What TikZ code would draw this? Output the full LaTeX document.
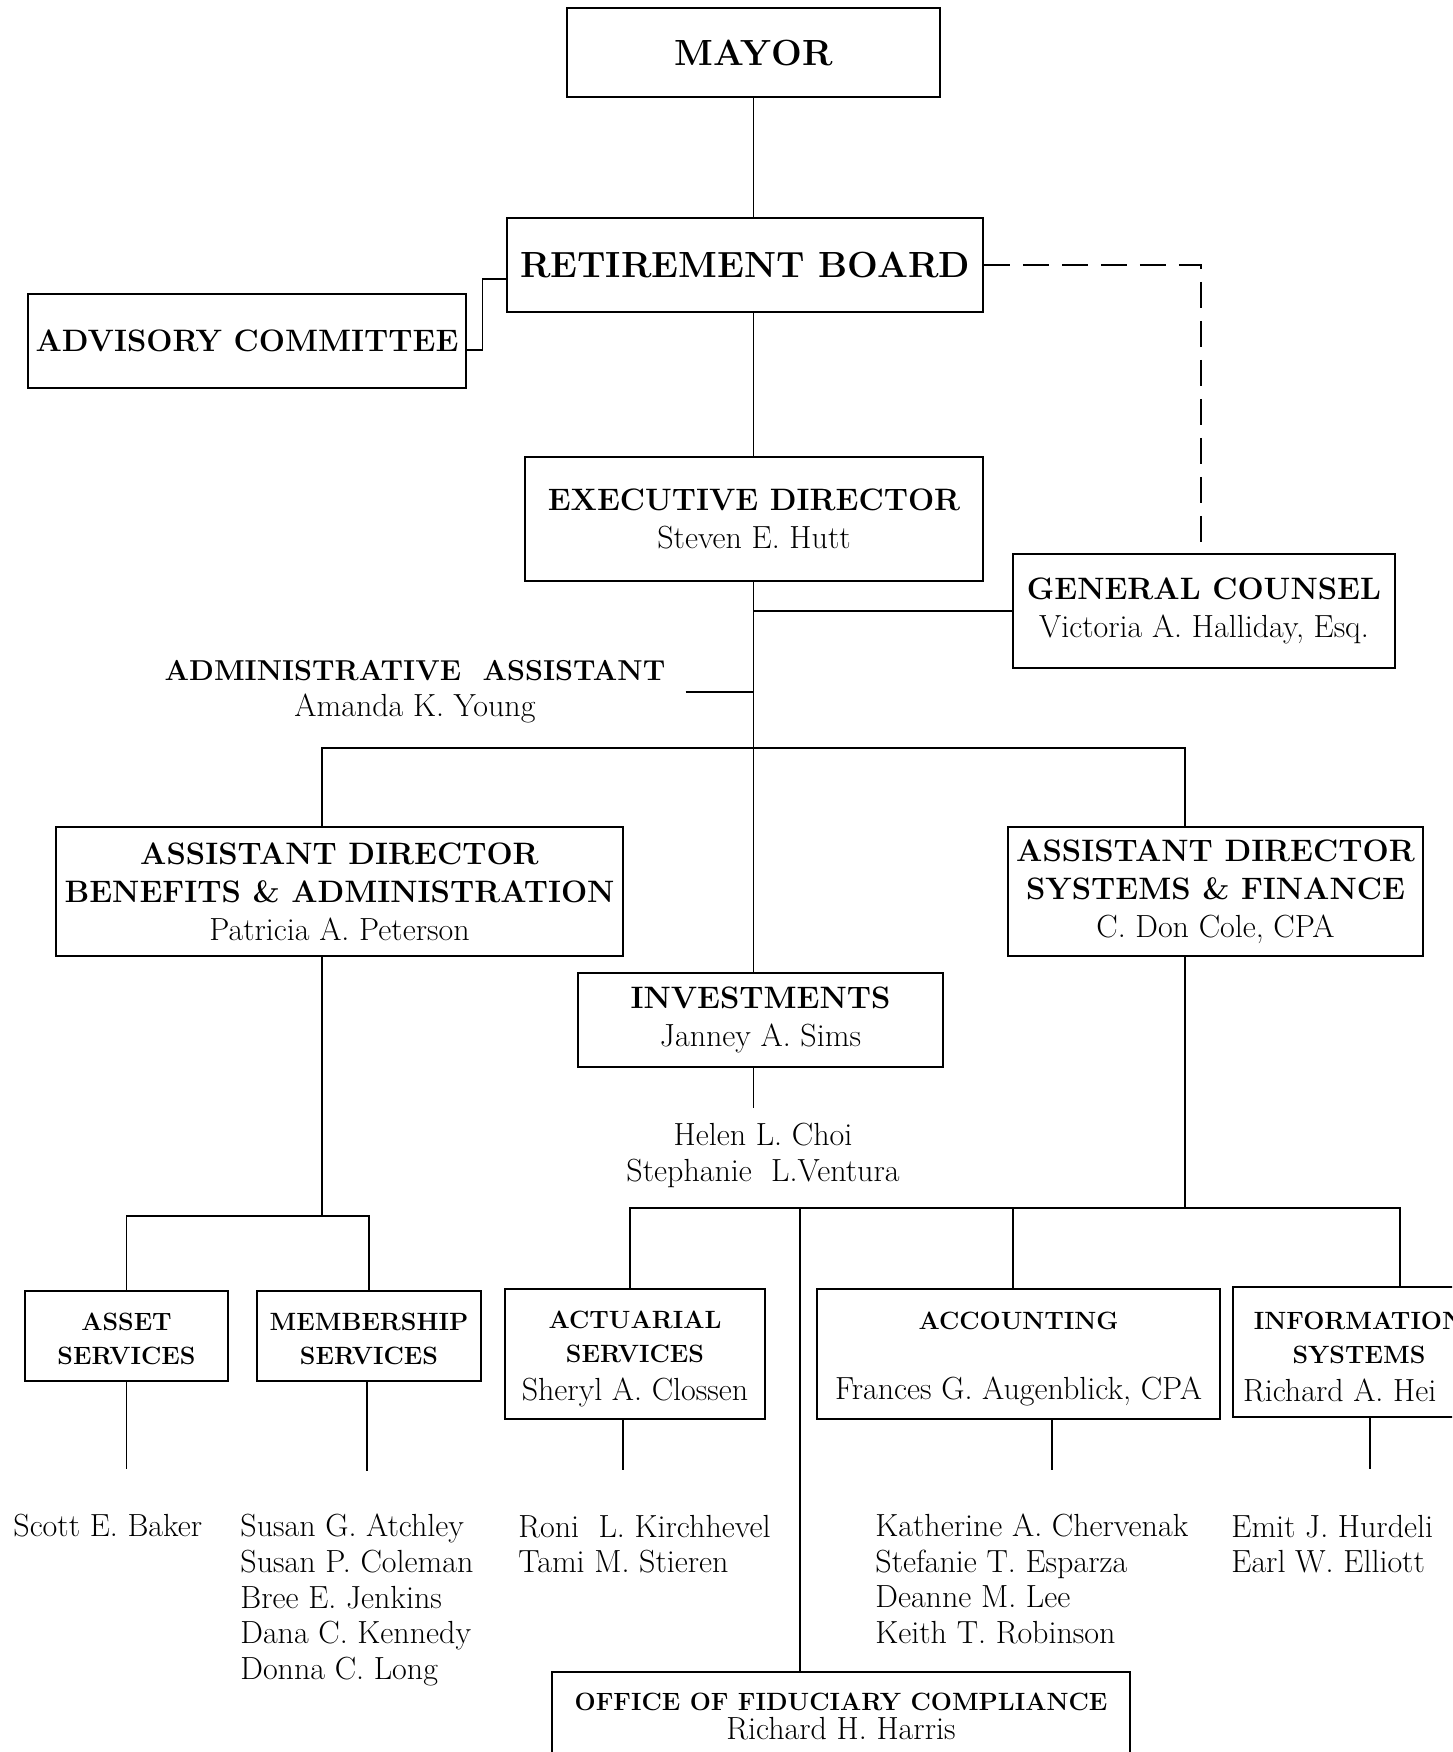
\documentclass[tikz,border=0pt]{standalone}
\usepackage{fontspec}
\newcommand{\hdbig}{\fontsize{18.2}{17}\selectfont\bfseries\addfontfeature{LetterSpace=0}}
\newcommand{\hdmid}{\fontsize{15.5}{17}\selectfont\bfseries\addfontfeature{LetterSpace=0}}
\newcommand{\hdadm}{\fontsize{14.4}{17}\selectfont\bfseries\addfontfeature{LetterSpace=0}}
\newcommand{\hdsmall}{\fontsize{12.5}{17}\selectfont\bfseries\addfontfeature{LetterSpace=0}}
\newcommand{\nmfont}[1][17]{\fontsize{16}{#1}\selectfont\addfontfeature{LetterSpace=2.5}}
\newcommand{\dropstrut}[1]{\rule{0pt}{#1}}
\begin{document}
\begin{tikzpicture}[x=0.5pt,y=-0.5pt,
	box/.style={draw,line width=0.8pt,inner sep=0pt,align=center,font={\nmfont}},
	plain/.style={inner sep=0pt,align=center,font={\nmfont[18]}},
	staff/.style={inner sep=0pt,align=left,anchor=west,font={\nmfont[17.85]}},
	link/.style={line width=0.7pt},
	dashlink/.style={line width=0.7pt,dash pattern=on 13pt off 6.5pt}]
	\useasboundingbox (0,0) rectangle (1452,1752);
	\clip (0,0) rectangle (1452,1752);
	
	%Shape: Rectangle [mayor, board, advisory]
	\node[box,minimum width=186.5pt,minimum height=44.5pt] (mayor) at (753.5,52.5) {{\hdbig MAYOR}};
	\node[box,minimum width=238pt,minimum height=47pt] (board) at (745,265) {{\hdbig RETIREMENT BOARD}};
	\node[box,minimum width=219pt,minimum height=47pt] (advisory) at (247,341) {{\hdmid ADVISORY COMMITTEE}};
	
	%Shape: Rectangle [director, counsel]
	\node[box,minimum width=229pt,minimum height=62pt] (exec) at (754,519) {{\hdmid EXECUTIVE DIRECTOR}\\[2pt]Steven E. Hutt};
	\node[box,minimum width=191pt,minimum height=57pt] (counsel) at (1204,611) {{\hdmid GENERAL COUNSEL}\\[2pt]Victoria A. Halliday, Esq.};
	% Text Node
	\node[plain] (admin) at (415,692) {{\hdadm ADMINISTRATIVE\ \ ASSISTANT}\\Amanda K. Young};
	
	%Shape: Rectangle [assistant directors, investments]
	\node[box,font={\nmfont[19]},minimum width=283.5pt,minimum height=64.5pt] (benefits) at (339.5,891.5) {{\hdmid ASSISTANT DIRECTOR}\\{\hdmid BENEFITS \& ADMINISTRATION}\\Patricia A. Peterson};
	\node[box,font={\nmfont[19]},minimum width=207.5pt,minimum height=64.5pt] (systems) at (1215.5,891.5) {{\hdmid ASSISTANT DIRECTOR}\\{\hdmid SYSTEMS \& FINANCE}\\C. Don Cole, CPA};
	\node[box,minimum width=182.5pt,minimum height=47pt] (invest) at (760.5,1020) {{\hdmid INVESTMENTS}\\[2pt]Janney A. Sims};
	% Text Node
	\node[plain] (invstaff) at (763,1155) {Helen L. Choi\\Stephanie\ \ L.Ventura};
	
	%Shape: Rectangle [sections]
	\node[box,minimum width=101.5pt,minimum height=45pt] (asset) at (126.5,1336) {{\hdsmall\dropstrut{12pt}ASSET}\\{\hdsmall SERVICES}};
	\node[box,minimum width=112pt,minimum height=45pt] (member) at (369,1336) {{\hdsmall\dropstrut{12pt}MEMBERSHIP}\\{\hdsmall SERVICES}};
	\node[box,minimum width=130pt,minimum height=65pt] (actuar) at (635,1354) {{\hdsmall\dropstrut{14.2pt}ACTUARIAL}\\{\hdsmall SERVICES}\\[2pt]Sheryl A. Clossen};
	\node[box,minimum width=201.5pt,minimum height=65pt] (account) at (1018.5,1354) {{\hdsmall\dropstrut{14.2pt}ACCOUNTING}\\[18pt]Frances G. Augenblick, CPA};
	\node[box,minimum width=126pt,minimum height=65pt] (infosys) at (1359,1352) {{\hdsmall\dropstrut{14.2pt}INFORMATION}\\{\hdsmall SYSTEMS}\\[2pt]\makebox[116pt][l]{Richard A. Hei}};
	\node[box,minimum width=289pt,minimum height=44pt] (fiduc) at (841,1716) {{\hdsmall OFFICE OF FIDUCIARY COMPLIANCE}\\[-2.5pt]Richard H. Harris};
	
	% Text Node [staff]
	\node[staff] (assetstaff) at (13,1526) {Scott E. Baker};
	\node[staff] (memberstaff) at (240,1600) {Susan G. Atchley\\Susan P. Coleman\\Bree E. Jenkins\\Dana C. Kennedy\\Donna C. Long};
	\node[staff] (actuarstaff) at (518,1544) {Roni\ \ L. Kirchhevel\\Tami M. Stieren};
	\node[staff] (accountstaff) at (875,1579) {Katherine A. Chervenak\\Stefanie T. Esparza\\Deanne M. Lee\\Keith T. Robinson};
	\node[staff] (infostaff) at (1231,1544) {Emit J. Hurdeli\\Earl W. Elliott};
	
	\coordinate (adbar) at (753.5,748);
	\coordinate (lbar) at (322,1216);
	\coordinate (rbar) at (1185,1208);
	
	%Straight Lines [top]
	\draw[link] (mayor.south) -- (mayor.south |- board.north);
	\draw[link] (mayor |- board.south) -- (mayor |- exec.north);
	\draw[link] ([yshift=-7pt]board.west) -- ++(-24,0) |- ([yshift=-4.5pt]advisory.east);
	\draw[dashlink] (board.east) -| ([xshift=-1.5pt]counsel.north);
	\draw[link] (mayor |- exec.south) -- (mayor |- invest.north);
	\draw[link] (counsel.west) -- (mayor |- counsel.west);
	\draw[link] ([xshift=10pt]admin.east) -- (mayor |- admin.east);
	%Straight Lines [middle]
	\draw[link] ([xshift=-8.75pt]benefits.north) |- (adbar) -| ([xshift=-15.25pt]systems.north);
	\draw[link] (mayor |- invest.south) -- ++(0,40);
	\draw[link] ([xshift=-8.75pt]benefits.south) -- (lbar);
	\draw[link] (asset.north) |- (lbar) -| (member.north);
	\draw[link] ([xshift=-15.25pt]systems.south) -- (rbar);
	\draw[link] ([xshift=-2.5pt]actuar.north) |- (rbar) -| ([xshift=20.5pt]infosys.north);
	\draw[link] ([xshift=-2.75pt]account.north) |- (rbar);
	\draw[link] ([xshift=-20.5pt]fiduc.north) |- (rbar);
	%Straight Lines [bottom]
	\draw[link] (asset.south) -- ++(0,87);
	\draw[link] ([xshift=-1pt]member.south) -- ++(0,89);
	\draw[link] ([xshift=-6pt]actuar.south) -- ++(0,50);
	\draw[link] ([xshift=16.75pt]account.south) -- ++(0,50);
	\draw[link] ([xshift=5.5pt]infosys.south) -- ++(0,51);
\end{tikzpicture}
\end{document}
